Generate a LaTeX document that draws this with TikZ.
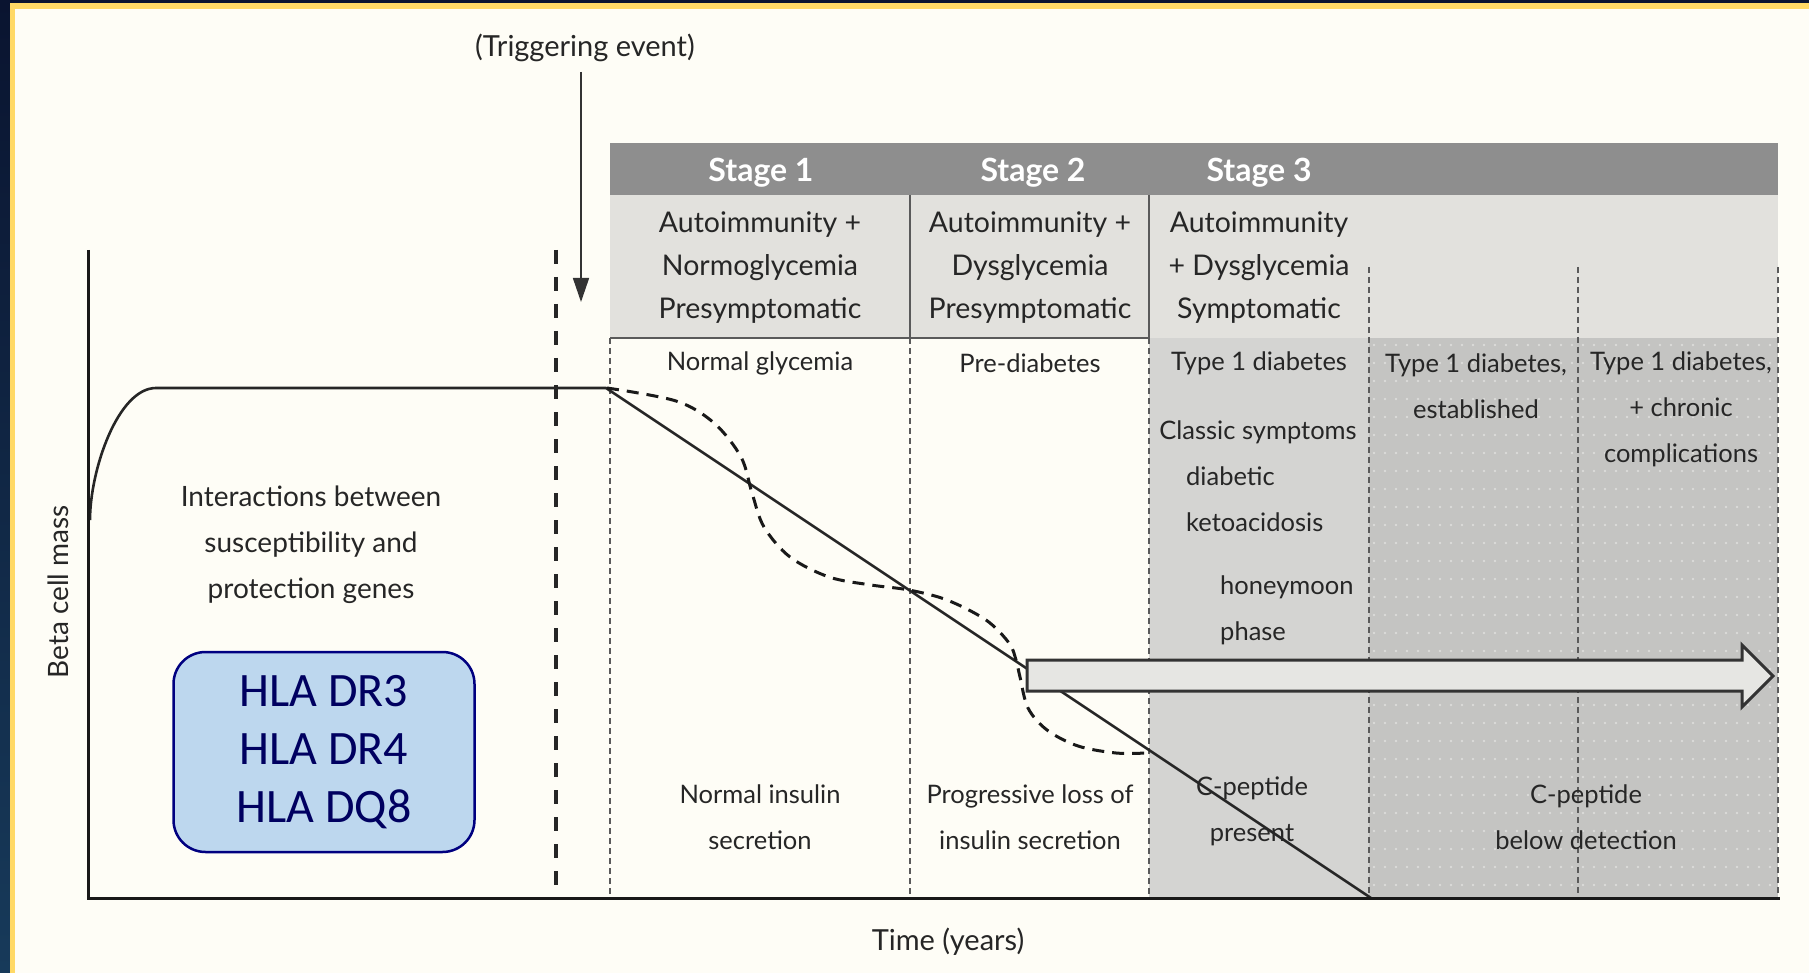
\documentclass[tikz,border=0pt]{standalone}
\usepackage{fontspec}
\setmainfont{Lato}
\newfontfamily\hlafont{Carlito}
\usetikzlibrary{arrows.meta}

\definecolor{navy}{HTML}{0A1430}
\definecolor{navylow}{HTML}{173A5A}
\definecolor{frameyellow}{HTML}{FFD966}
\definecolor{paper}{HTML}{FEFDF6}
\definecolor{bar}{HTML}{8E8E8E}
\definecolor{rowgrey}{HTML}{E2E1DD}
\definecolor{midgrey}{HTML}{D4D4D2}
\definecolor{darkgrey}{HTML}{C4C4C2}
\definecolor{dotgrey}{HTML}{DCDCDA}
\definecolor{ink}{HTML}{262626}
\definecolor{rule}{HTML}{5A5A5A}
\definecolor{arrowfill}{HTML}{E6E6E3}
\definecolor{hlafill}{HTML}{BDD7EE}
\definecolor{hlaedge}{HTML}{000080}
\definecolor{hlatext}{HTML}{000060}

\tikzset{
  lbl/.style={inner sep=0pt, text=ink, align=center},
  hdr/.style={lbl, font=\fontsize{28.5}{43}\selectfont},
  body/.style={lbl, font=\fontsize{25.5}{46}\selectfont},
  stagehead/.style={inner sep=0pt, text=white, font=\bfseries\fontsize{32}{36}\selectfont},
  axisline/.style={line width=3pt, draw=black!90},
  massline/.style={line width=2.6pt, draw=black!85, line join=round},
  phaseline/.style={line width=3pt, draw=black!90, dash pattern=on 12pt off 8pt},
  triggerline/.style={line width=3.5pt, draw=black!85, dash pattern=on 14pt off 13pt},
  colrule/.style={line width=1.8pt, draw=rule, dash pattern=on 6pt off 4pt},
  cellrule/.style={line width=1.8pt, draw=rule},
}

\begin{document}
\begin{tikzpicture}[x=1pt, y=-1pt]
\useasboundingbox (0,0) rectangle (1809,973);

% frame and paper
\shade[top color=navy, bottom color=navylow] (0,0) rectangle (1809,973);
\fill[frameyellow] (9.5,3) rectangle (1809,973);
\fill[paper] (15,9) rectangle (1809,973);

% stage table backgrounds
\fill[bar] (610,143) rectangle (1778,195);
\fill[rowgrey] (610,195) rectangle (1778,338);
\fill[midgrey] (1149,338) rectangle (1369,898);
\fill[darkgrey] (1369,338) rectangle (1778,898);
\foreach \i in {0,...,36} {
  \foreach \j in {0,...,30} {
    \fill[dotgrey] (1374+\i*11, 345+\j*18) circle (1.3);
  }
}

% table rules
\draw[cellrule] (910,195) -- (910,338);
\draw[cellrule] (1149,195) -- (1149,338);
\draw[cellrule] (610,338) -- (1149,338);
\foreach \x in {610,910,1149} { \draw[colrule] (\x,338) -- (\x,898); }
\foreach \x in {1369,1578,1778} { \draw[colrule] (\x,267) -- (\x,898); }

% triggering event marker
\draw[triggerline] (556,250) -- (556,898);
\node[lbl, font=\fontsize{29}{32}\selectfont] (trig) at (585,48) {(Triggering event)};
\coordinate (trigstart) at (581,72);
\coordinate (trigtip) at (581,302);
\draw[line width=1.6pt, draw=black!80, -{Triangle[width=16pt,length=24pt]}] (trigstart) -- (trigtip);

% beta cell mass, linear course
\draw[massline] (90,520) .. controls (90,470) and (118,388) .. (156,388) -- (606,388) -- (1371,898);

% beta cell mass, fluctuating course
\draw[phaseline] plot[smooth, tension=0.55] coordinates {
  (607,388) (676,401) (714,423) (741,457) (752,493) (764,527) (790,557)
  (829,577) (871,585) (909,590) (947,600) (986,620) (1009,643) (1016,660)
  (1020,677) (1028,708) (1047,730) (1078,746) (1116,753) (1146,753)};

% progression arrow
\draw[line width=3pt, draw=black!80, fill=arrowfill, line join=miter]
  (1027,660) -- (1742,660) -- (1742,645) -- (1773,676) -- (1742,707) -- (1742,691) -- (1027,691) -- cycle;

% axes
\draw[axisline] (88,250) -- (88,898) -- (1780,898);
\node[lbl, rotate=90, font=\fontsize{28}{30}\selectfont] (ylab) at (58,592) {Beta cell mass};
\node[lbl, font=\fontsize{29}{32}\selectfont] (xlab) at (948,942) {Time (years)};

% stage headers
\node[stagehead] (s1) at (761,173) {Stage 1};
\node[stagehead] (s2) at (1033,173) {Stage 2};
\node[stagehead] (s3) at (1259,173) {Stage 3};

\node[hdr] (h1) at (760,268) {Autoimmunity +\\Normoglycemia\\Presymptomatic};
\node[hdr] (h2) at (1030,268) {Autoimmunity +\\Dysglycemia\\Presymptomatic};
\node[hdr] (h3) at (1259,268) {Autoimmunity\\+ Dysglycemia\\Symptomatic};

% clinical labels
\node[body] (c1) at (760,363) {Normal glycemia};
\node[body] (c2) at (1030,363) {Pre-diabetes};
\node[body] (c3) at (1259,363) {Type 1 diabetes};
\node[body] (c4) at (1476,386) {Type 1 diabetes,\\established};
\node[body] (c5) at (1681,409) {Type 1 diabetes,\\+ chronic\\complications};
\node[body] (sym) at (1258,432) {Classic symptoms};
\node[body, anchor=west, align=left] (dka) at (1186,499) {diabetic\\ketoacidosis};
\node[body, anchor=west, align=left] (honey) at (1220,610) {honeymoon\\phase};

\node[body] (i1) at (760,817) {Normal insulin\\secretion};
\node[body] (i2) at (1030,817) {Progressive loss of\\insulin secretion};
\node[body] (i3) at (1252,811) {C-peptide\\present};
\node[body] (i4) at (1586,817) {C-peptide\\below detection};

\node[lbl, font=\fontsize{28}{46}\selectfont] (genes) at (311,545) {Interactions between\\susceptibility and\\protection genes};

% HLA risk alleles
\node[draw=hlaedge, line width=2.5pt, fill=hlafill, rounded corners=32pt,
      minimum width=301pt, minimum height=200pt, inner sep=0pt,
      text=hlatext, align=center, font=\hlafont\fontsize{48}{58}\selectfont]
  (hla) at (324,752) {HLA DR3\\HLA DR4\\HLA DQ8};

\end{tikzpicture}
\end{document}
